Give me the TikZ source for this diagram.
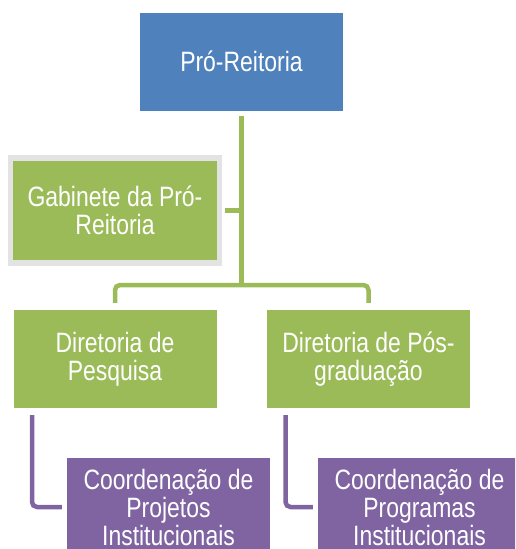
\documentclass[tikz,border=0pt]{standalone}
\usepackage{fontspec}
\setmainfont[FakeStretch=0.82]{Liberation Sans}
\usetikzlibrary{positioning}
\definecolor{azul}{HTML}{4F81BD}
\definecolor{verde}{HTML}{9BBB59}
\definecolor{roxo}{HTML}{8064A2}
\definecolor{cinza}{HTML}{E3E3E3}
\tikzset{
	caixa/.style={minimum width=203pt, minimum height=98pt, inner sep=0pt, align=center, text=white, font=\fontsize{28}{28}\selectfont},
	caixaazul/.style={caixa, fill=azul},
	caixaverde/.style={caixa, fill=verde},
	caixaroxa/.style={caixa, fill=roxo},
	linhaverde/.style={draw=verde, line width=4.5pt, rounded corners=5pt},
	linharoxa/.style={draw=roxo, line width=4.5pt, rounded corners=5pt}
}

\begin{document}
\begin{tikzpicture}[x=1pt, y=-1pt]
			\clip (0,0) rectangle (515,549);
			\node[caixaazul] (pro) at (241.5,61.5) {Pró-Reitoria};
			\node[caixaverde, draw=cinza, line width=5.5pt, minimum width=209pt, minimum height=105pt] (gab) at (115,210.5) {Gabinete da Pró-\\Reitoria};
			\node[caixaverde] (dpq) at (115,359) {Diretoria de\\Pesquisa};
			\node[caixaverde] (dpg) at (368.5,359) {Diretoria de Pós-\\graduação};
			\node[caixaroxa] (cpi) at (168.5,507) {Coordenação de\\Projetos\\Institucionais};
			\node[caixaroxa] (cpr) at (419.5,507) {Coordenação de\\Programas\\Institucionais};
			\coordinate (split) at (241.5,285);
			\draw[linhaverde, shorten <=5pt] (pro.south) -- (split);
			\draw[linhaverde, shorten <=2.5pt] (gab.east) -- (gab.east -| pro.south);
			\draw[linhaverde, shorten <=7pt, shorten >=7pt] (dpq.north) |- (split) -| (dpg.north);
			\draw[linharoxa, shorten <=7pt, shorten >=5pt] ([xshift=-83pt]dpq.south) |- (cpi.west);
			\draw[linharoxa, shorten <=7pt, shorten >=5pt] ([xshift=-83pt]dpg.south) |- (cpr.west);
			\end{tikzpicture}
\end{document}
